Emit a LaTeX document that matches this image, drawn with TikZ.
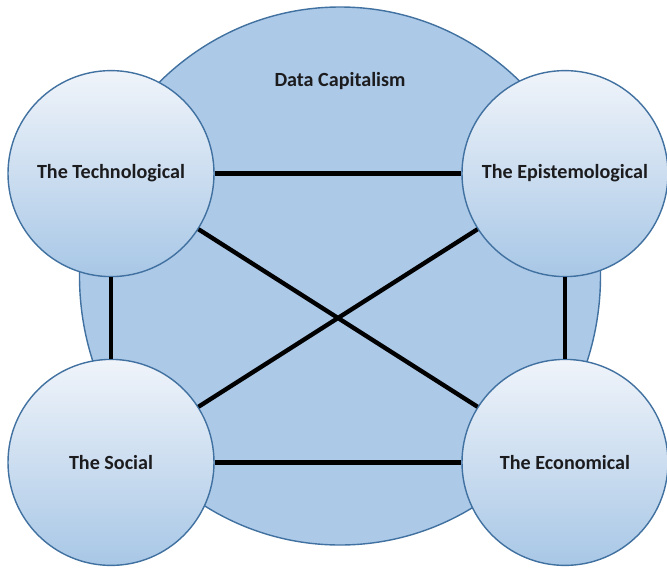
\documentclass[tikz,border=0pt]{standalone}
\usepackage{fontspec}
\setmainfont{Carlito}
\usepackage{xcolor}
\usetikzlibrary{positioning,shapes.geometric}

\definecolor{ringblue}{RGB}{65,113,160}
\definecolor{bigblue}{RGB}{172,201,232}
\definecolor{topblue}{RGB}{240,244,250}
\definecolor{lowblue}{RGB}{168,199,230}
\definecolor{inkblack}{RGB}{28,28,30}

\begin{document}
\begin{tikzpicture}[
    % GLOBAL CFG
    font=\fontsize{14.3}{16}\selectfont\bfseries,
    text=inkblack,
    % Styles
    bigcircle/.style={% For the Data Capitalism circle
        ellipse,
        draw=ringblue,
        line width=1pt,
        fill=bigblue,
        minimum width=13.025cm,
        minimum height=13.45cm,
        inner sep=0pt,
        },
    dimension/.style={% For the four small circles
        circle,
        draw=ringblue,
        line width=1pt,
        top color=topblue,
        bottom color=lowblue,
        minimum size=5.15cm,
        inner sep=0pt,
        },
    link/.style={% Thick black connectors
        line width=3.1pt,
        black,
        },
    ]

%Start drawing the thing...
    \useasboundingbox (0,0) rectangle (16.675,-14.25);

    % Draw the big circle
    \node [bigcircle] (data) at (8.5,-6.9) {};
    \node (datalabel) at (8.5,-2.025) {Data Capitalism};

    % Draw the small circles named after the dimension
    \node [dimension] (tech) at (2.775,-4.34) {The Technological};
    \node [dimension] (epist) at (14.125,-4.34) {The Epistemological};
    \node [dimension] (social) at (2.775,-11.56) {The Social};
    \node [dimension] (econ) at (14.125,-11.56) {The Economical};

    % Connecting all
    \draw [link] (tech) -- (epist);
    \draw [link] (social) -- (econ);
    \draw [link] (tech) -- (social);
    \draw [link] (epist) -- (econ);
    \draw [link] (tech) -- (econ);
    \draw [link] (epist) -- (social);

\end{tikzpicture}
\end{document}
